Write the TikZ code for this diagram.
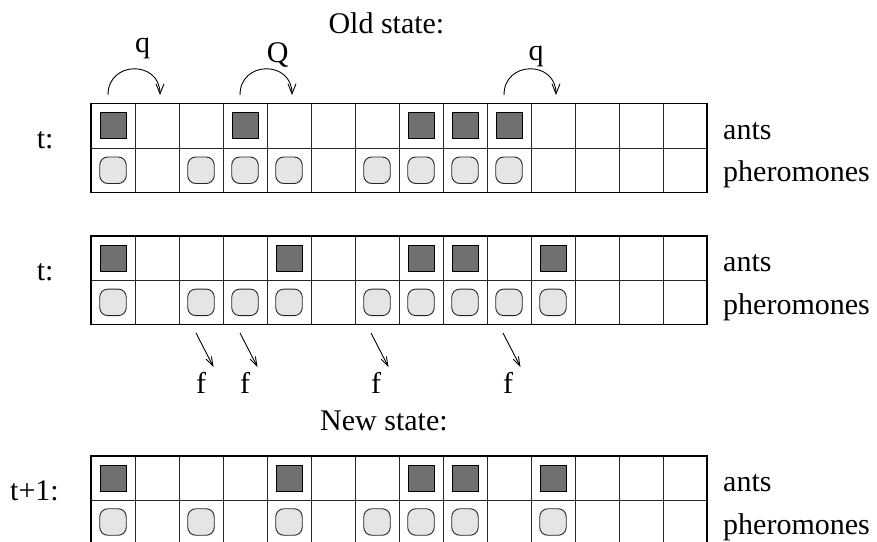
\documentclass[tikz,border=0pt]{standalone}
\usepackage{fontspec}
\setmainfont{Liberation Serif}
\usetikzlibrary{arrows.meta}

\definecolor{antgray}{RGB}{112,112,112}
\definecolor{phergray}{RGB}{229,229,229}

\tikzset{
  antmark/.style={draw=black, fill=antgray, minimum size=26pt, inner sep=0pt, line width=0.9pt},
  phermark/.style={draw=black!85, fill=phergray, minimum size=26.5pt, inner sep=0pt,
                   rounded corners=8pt, line width=0.9pt},
  lbl/.style={font=\fontsize{30}{36}\selectfont, inner sep=0pt, anchor=base west},
  gridline/.style={line width=0.9pt, black!85},
  gridframe/.style={line width=1.2pt, black},
  hop/.style={line width=0.9pt, -{Straight Barb[length=10pt,width=8pt]}},
  decay/.style={line width=0.9pt, -{Straight Barb[length=9pt,width=6pt]}},
}

% \cagrid{name}{top}{row height}{ant cells}{pheromone cells}
\newcommand\cagrid[5]{%
  \pgfmathsetmacro\gtop{#2}%
  \pgfmathsetmacro\gmid{#2+#3}%
  \pgfmathsetmacro\gbot{#2+2*#3}%
  \foreach \k in {1,...,13}
    \draw[gridline] ({91+44*\k},\gtop) -- ({91+44*\k},\gbot);
  \draw[gridline] (91,\gmid) -- (707,\gmid);
  \draw[gridframe] (91,\gtop) rectangle (707,\gbot);
  \foreach \k in {#4}
    \node[antmark] (#1-a\k) at ({113+44*\k},{#2+0.5*#3}) {};
  \foreach \k in {#5}
    \node[phermark] (#1-p\k) at ({113+44*\k},{#2+1.5*#3}) {};
}

\begin{document}
\begin{tikzpicture}[x=1pt,y=-1pt]
  \clip (0,0) rectangle (877,541);
  \fill[white] (0,0) rectangle (877,541);

  % old state: ants and pheromones before moving
  \node[lbl] (oldtitle) at (328.3,33.5) {Old state:};
  \cagrid{g1}{103.5}{44.5}{0,3,7,8,9}{0,2,3,4,6,7,8,9}
  \node[lbl] (t1) at (36.7,148) {t:};
  \node[lbl] (ants1) at (723,139) {ants};
  \node[lbl] (pher1) at (723,181) {pheromones};

  % moves of the ants
  \coordinate (m1s) at (108,95);  \coordinate (m1e) at (160,95);
  \coordinate (m2s) at (240,95);  \coordinate (m2e) at (292,95);
  \coordinate (m3s) at (504,95);  \coordinate (m3e) at (556,95);
  \draw[hop] (m1s) .. controls (108,60.3) and (160,60.3) .. (m1e);
  \draw[hop] (m2s) .. controls (240,60.3) and (292,60.3) .. (m2e);
  \draw[hop] (m3s) .. controls (504,60.3) and (556,60.3) .. (m3e);
  \node[lbl] (lq1) at (135,52) {q};
  \node[lbl] (lQ)  at (266.7,62) {Q};
  \node[lbl] (lq2) at (528.3,60) {q};

  % intermediate state after the moves
  \cagrid{g2}{236}{44.25}{0,4,7,8,10}{0,2,3,4,6,7,8,9,10}
  \node[lbl] (t2) at (36.7,280) {t:};
  \node[lbl] (ants2) at (723,271) {ants};
  \node[lbl] (pher2) at (723,314) {pheromones};

  % evaporation of pheromones
  \foreach \x [count=\i] in {196,240,371,503} {
    \coordinate (f\i s) at (\x,333);
    \coordinate (f\i e) at (\x+17.5,367);
    \draw[decay] (f\i s) -- (f\i e);
    \node[lbl] (f\i) at (\x,393) {f};
  }

  % new state
  \node[lbl] (newtitle) at (320,430) {New state:};
  \cagrid{g3}{456}{44}{0,4,7,8,10}{0,2,4,6,7,8,10}
  \node[lbl] (t3) at (10,500) {t+1:};
  \node[lbl] (ants3) at (723,491) {ants};
  \node[lbl] (pher3) at (723,534) {pheromones};
\end{tikzpicture}
\end{document}
